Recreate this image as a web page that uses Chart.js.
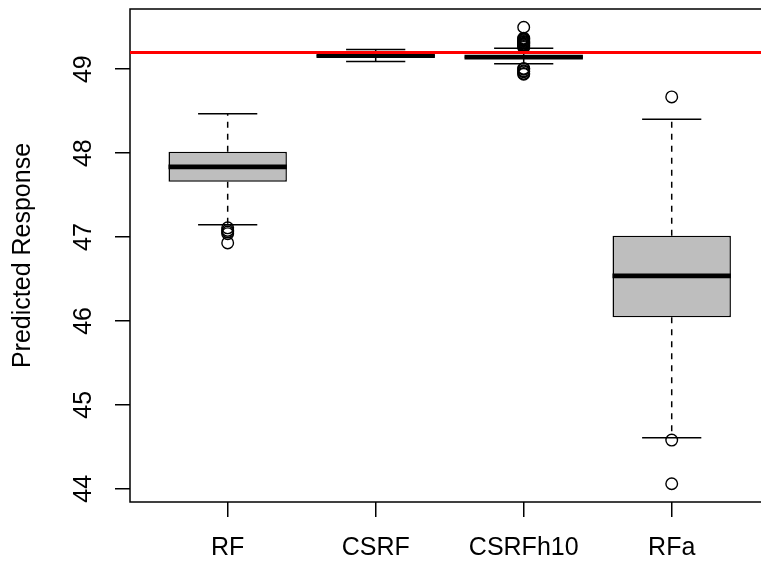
<!DOCTYPE html>
<html><head><meta charset="utf-8">
<script src="https://cdn.jsdelivr.net/npm/chart.js@4.4.1/dist/chart.umd.min.js"></script>
<style>html,body{margin:0;padding:0;background:#fff;overflow:hidden;width:761px;height:562px}canvas{display:block}</style>
</head><body>
<canvas id="c" width="780" height="562"></canvas>
<script>
// ---- data ----
const categories = ['RF', 'CSRF', 'CSRFh10', 'RFa'];
const lowerWhisker = [47.145, 49.092, 49.064, 44.608];
const q1 = [47.658, 49.150, 49.130, 46.044];
const median = [47.837, 49.163, 49.143, 46.538];
const q3 = [48.015, 49.175, 49.155, 47.014];
const upperWhisker = [48.468, 49.235, 49.250, 48.404];
const outliersRF = [47.11, 47.08, 47.06, 47.04, 46.93];
const outliersCSRF = [];
const outliersCSRFh10 = [49.50, 49.37, 49.36, 49.35, 49.34, 49.33, 49.32, 49.31, 49.30, 49.29, 49.28, 49.27, 49.26,
                         49.01, 49.00, 48.98, 48.97, 48.95, 48.94];
const outliersRFa = [48.67, 44.58, 44.06];
const referenceLine = 49.2;
const yTicks = [44, 45, 46, 47, 48, 49];
const yTitle = 'Predicted Response';

// ---- build library structures ----
const outliers = [outliersRF, outliersCSRF, outliersCSRFh10, outliersRFa];
const allVals = [].concat(lowerWhisker, upperWhisker, ...outliers);
const dMin = Math.min(...allVals), dMax = Math.max(...allVals);
const yMin = dMin - 0.04 * (dMax - dMin), yMax = dMax + 0.04 * (dMax - dMin);
const xMin = 0.5 - 0.04 * categories.length, xMax = categories.length + 0.5 + 0.04 * categories.length;
const BOX_HALF = 0.4, STAPLE_HALF = 0.2;

const boxData = categories.map((c, i) => ({x: i + 1, y: [q1[i], q3[i]]}));
const medianData = [], whiskerData = [], stapleData = [], outlierData = [];
categories.forEach((c, i) => {
  const x = i + 1;
  medianData.push({x: x - BOX_HALF, y: median[i]}, {x: x + BOX_HALF, y: median[i]}, {x: x, y: null});
  whiskerData.push({x: x, y: q3[i]}, {x: x, y: upperWhisker[i]}, {x: x, y: null},
                   {x: x, y: q1[i]}, {x: x, y: lowerWhisker[i]}, {x: x, y: null});
  stapleData.push({x: x - STAPLE_HALF, y: upperWhisker[i]}, {x: x + STAPLE_HALF, y: upperWhisker[i]}, {x: x, y: null},
                  {x: x - STAPLE_HALF, y: lowerWhisker[i]}, {x: x + STAPLE_HALF, y: lowerWhisker[i]}, {x: x, y: null});
  outliers[i].forEach(v => outlierData.push({x: x, y: v}));
});
const refData = [{x: xMin, y: referenceLine}, {x: xMax, y: referenceLine}];

Chart.defaults.font.family = '"Liberation Sans", Arial, Helvetica, sans-serif';
Chart.defaults.font.size = 25;
Chart.defaults.color = '#000';

const lineBase = {type: 'line', pointRadius: 0, pointHoverRadius: 0, tension: 0, spanGaps: false, fill: false, borderColor: '#000'};

const framePlugin = {
  id: 'frame',
  beforeDatasetsDraw(chart) {
    const {ctx, chartArea: a} = chart;
    ctx.save();
    ctx.strokeStyle = '#000';
    ctx.lineWidth = 1.5;
    ctx.strokeRect(a.left, a.top, a.right - a.left, a.bottom - a.top);
    ctx.restore();
  }
};

new Chart(document.getElementById('c'), {
  type: 'bar',
  data: {
    datasets: [
      {type: 'bar', data: boxData, backgroundColor: '#bebebe', borderColor: '#000', borderWidth: 1.5,
       borderSkipped: false, barPercentage: 0.8, categoryPercentage: 1, order: 6},
      Object.assign({}, lineBase, {data: medianData, borderWidth: 4.7, borderCapStyle: 'butt', order: 5}),
      Object.assign({}, lineBase, {data: whiskerData, borderWidth: 1.5, borderDash: [6, 6], order: 4}),
      Object.assign({}, lineBase, {data: stapleData, borderWidth: 1.5, order: 3}),
      {type: 'scatter', data: outlierData, pointStyle: 'circle', pointRadius: 5.8, pointHoverRadius: 5.8,
       pointBorderWidth: 1.4, pointBackgroundColor: 'rgba(0,0,0,0)', pointBorderColor: '#000', showLine: false, order: 2},
      Object.assign({}, lineBase, {data: refData, borderColor: '#ff0000', borderWidth: 3.1, order: 1})
    ]
  },
  options: {
    responsive: false,
    devicePixelRatio: 1,
    animation: false,
    events: [],
    layout: {padding: {top: 9, right: 10.6, left: 0, bottom: 0}},
    plugins: {legend: {display: false}, tooltip: {enabled: false}},
    scales: {
      x: {
        type: 'linear', min: xMin, max: xMax, offset: false,
        afterBuildTicks: s => { s.ticks = categories.map((c, i) => ({value: i + 1})); },
        ticks: {callback: (v, i) => categories[i], padding: 16, minRotation: 0, maxRotation: 0, autoSkip: false, color: '#000'},
        grid: {offset: false, drawOnChartArea: false, drawTicks: true, tickLength: 15, color: '#000', lineWidth: 1.5},
        border: {display: false},
        afterFit: s => { s.height = 60; s.paddingLeft = 0; s.paddingRight = 0; }
      },
      y: {
        type: 'linear', min: yMin, max: yMax, beginAtZero: false,
        afterBuildTicks: s => { s.ticks = yTicks.map(v => ({value: v})); },
        ticks: {minRotation: 90, maxRotation: 90, crossAlign: 'center', padding: 17, color: '#000', callback: v => String(v)},
        grid: {drawOnChartArea: false, drawTicks: true, tickLength: 15, color: '#000', lineWidth: 1.5},
        border: {display: false},
        title: {display: true, text: yTitle, color: '#000', padding: {top: 8, bottom: 0}},
        afterFit: s => { s.width = 130; s.paddingTop = 0; s.paddingBottom = 0; }
      }
    }
  },
  plugins: [framePlugin]
});
</script>
</body></html>
